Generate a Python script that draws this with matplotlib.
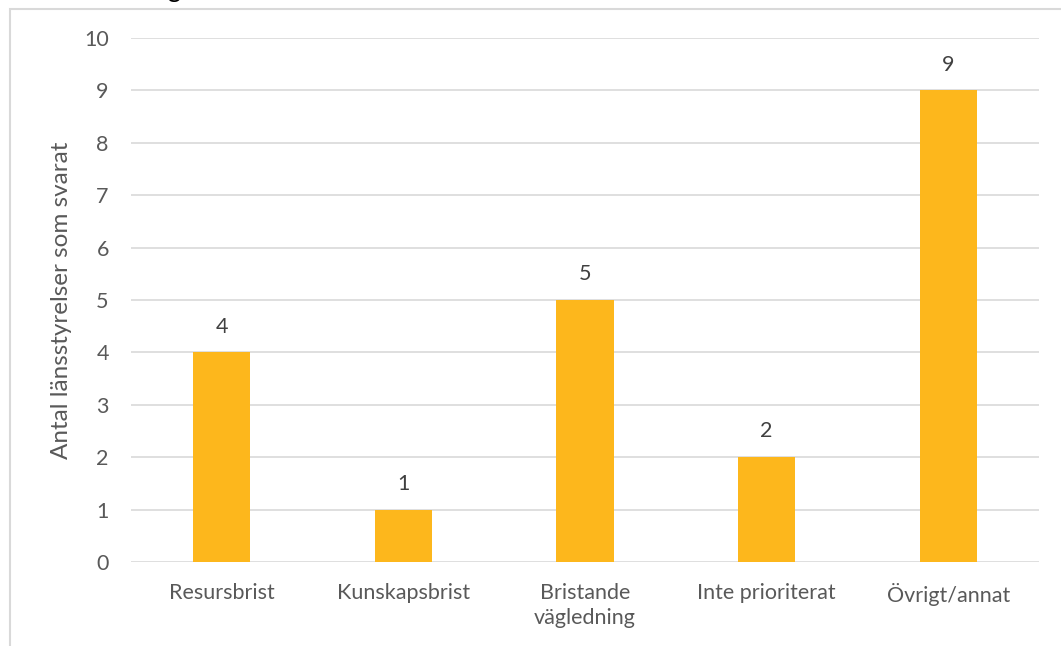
import matplotlib.pyplot as plt
from matplotlib.patches import Rectangle

categories = ["Resursbrist", "Kunskapsbrist", "Bristande\nvägledning",
              "Inte prioriterat", "Övrigt/annat"]
values = [4, 1, 5, 2, 9]

plt.rcParams['font.family'] = ['Lato', 'DejaVu Sans']

fig = plt.figure(figsize=(10.61, 6.46), dpi=100)
ax = fig.add_axes([131 / 1061, 1 - 562 / 646, (1039 - 131) / 1061, (562 - 38) / 646])

x = list(range(len(categories)))
bars = ax.bar(x, values, width=0.314, color='#FDB71C', zorder=3)
for xi, v in zip(x, values):
    ax.text(xi, v + 0.3, str(v), ha='center', va='bottom', fontsize=15.5, color='#404040')

ax.set_xlim(-0.5, len(categories) - 0.5)
ax.set_ylim(0, 10)
ax.set_yticks(range(0, 11))
ax.set_xticks(x)
ax.set_xticklabels(categories, fontsize=15.5, color='#595959', linespacing=1.35)
ax.tick_params(axis='y', labelsize=15.5, labelcolor='#595959', length=0, pad=16)
ax.tick_params(axis='x', length=0, pad=15)
ax.grid(axis='y', color='#d9d9d9', linewidth=1.2, zorder=0)
for s in ax.spines.values():
    s.set_visible(False)
ax.set_ylabel("Antal länsstyrelser som svarat", fontsize=17.5, color='#595959', labelpad=9)

# chart border (cropped)
fig.patches.append(Rectangle((10 / 1061, -0.1), 1.2, 1 - 9 / 646 + 0.1,
                             transform=fig.transFigure, fill=False,
                             edgecolor='#d9d9d9', linewidth=1.5))
# cut-off title remnant
fig.text(174 / 1061, 1 + 2 / 646, "g", ha='center', va='baseline', fontsize=18, color='black')

fig.savefig("out.png", dpi=100)
